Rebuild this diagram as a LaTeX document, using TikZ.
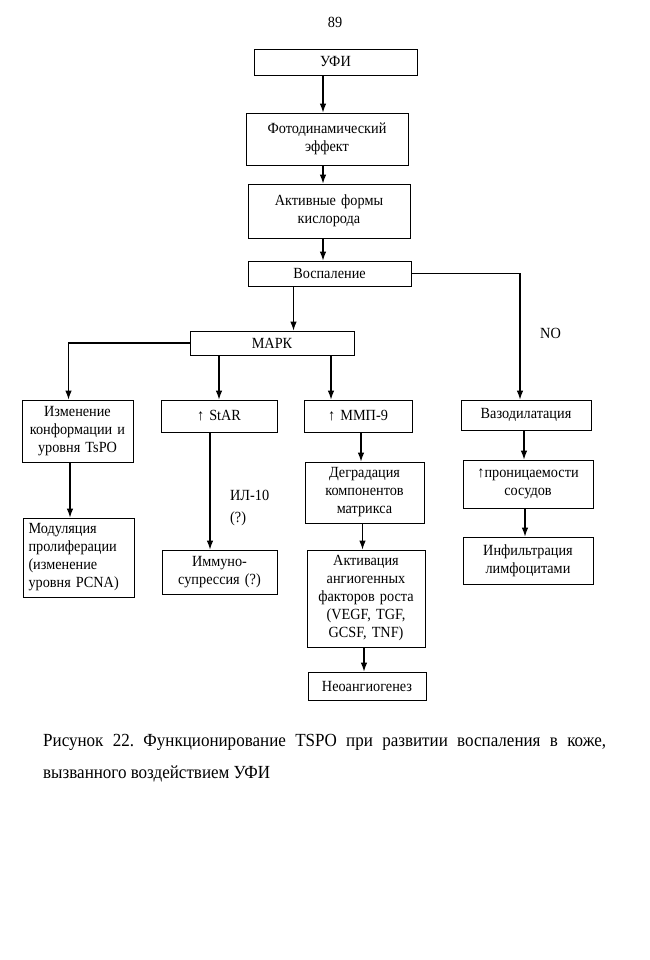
\documentclass[tikz,border=0pt]{standalone}
\usepackage{fontspec}
\setmainfont{Liberation Serif}[FakeStretch=0.92]
\usetikzlibrary{arrows.meta,positioning}

\begin{document}
\begin{tikzpicture}[
  x=1pt, y=-1pt,
  box/.style={draw, line width=0.8pt, align=center, inner sep=2pt,
              font=\fontsize{15.5}{18}\selectfont},
  lbl/.style={align=left, inner sep=0pt, font=\fontsize{15.5}{22}\selectfont},
  fwd/.style={-{Latex[length=9pt,width=6.5pt]}, line width=1.1pt},
]
\useasboundingbox (0,0) rectangle (649,960);

\node[font=\fontsize{15.5}{16}\selectfont] (page) at (335,22) {89};

% ---- main chain -------------------------------------------------------------
\node[box, text width=159pt, minimum height=26pt] (ufi) at (335.5,62) {УФИ};
\node[box, text width=158pt, minimum height=52pt] (fde) at (327,139)
  {Фотодинамический\\эффект};
\node[box, text width=158pt, minimum height=54pt] (afk) at (329,211)
  {Активные формы\\кислорода};
\node[box, text width=159pt, minimum height=25pt] (vosp) at (329.5,273.5)
  {Воспаление};
\node[box, text width=160pt, minimum height=24pt] (mapk) at (272,343) {МАРК};

\draw[fwd] ([xshift=-4pt]fde.north |- ufi.south) -- ([xshift=-4pt]fde.north);
\draw[fwd] ([xshift=-4pt]fde.south) -- ([xshift=-4pt]fde.south |- afk.north);
\draw[fwd] ([xshift=-4pt]fde.south |- afk.south) -- ([xshift=-4pt]fde.south |- vosp.north);
\draw[fwd] ([xshift=-36pt]vosp.south) -- ([xshift=-36pt]vosp.south |- mapk.north);

% ---- left branches ------------------------------------------------------------
\node[box, text width=107pt, minimum height=62pt] (tspo) at (77.5,431)
  {Изменение\\конформации и\\уровня TsPO};
\node[box, text width=100pt, minimum height=79pt, align=left,
      inner xsep=5.5pt] (pcna) at (78.5,557.5)
  {Модуляция\\пролиферации\\(изменение\\уровня PCNA)};
\node[box, text width=112pt, minimum height=32pt] (star) at (219,416) {↑ StAR};
\node[box, text width=111pt, minimum height=44pt] (immun) at (219.5,572)
  {Иммуно-\\супрессия (?)};
\node[lbl, anchor=west] (il) at (230,508) {ИЛ-10\\(?)};

\draw[fwd] (mapk.west) -| ([xshift=-9pt]tspo.north);
\draw[fwd] ([xshift=-7.5pt]tspo.south) -- ([xshift=-7.5pt]tspo.south |- pcna.north);
\draw[fwd] (star.north |- mapk.south) -- (star.north);
\draw[fwd] ([xshift=-9pt]star.south) -- ([xshift=-9pt]star.south |- immun.north);

% ---- MMP-9 column -------------------------------------------------------------
\node[box, text width=104pt, minimum height=32pt] (mmp) at (358,416) {↑ ММП-9};
\node[box, text width=115pt, minimum height=61pt] (degr) at (364.5,492.5)
  {Деградация\\компонентов\\матрикса};
\node[box, text width=114pt, minimum height=97pt] (activ) at (366,598.5)
  {Активация\\ангиогенных\\факторов роста\\(VEGF, TGF,\\GCSF, TNF)};
\node[box, text width=114pt, minimum height=28pt] (neo) at (367,686)
  {Неоангиогенез};

\draw[fwd] ([xshift=-27pt]mmp.north |- mapk.south) -- ([xshift=-27pt]mmp.north);
\draw[fwd] ([xshift=3pt]mmp.south) -- ([xshift=3pt]mmp.south |- degr.north);
\draw[fwd] ([xshift=-2pt]degr.south) -- ([xshift=-2pt]degr.south |- activ.north);
\draw[fwd] ([xshift=-2pt]activ.south) -- ([xshift=-2pt]activ.south |- neo.north);

% ---- right branch ---------------------------------------------------------------
\node[box, text width=126pt, minimum height=30pt] (vaso) at (526,415)
  {Вазодилатация};
\node[box, text width=126pt, minimum height=48pt] (pron) at (528,484)
  {↑проницаемости\\сосудов};
\node[box, text width=126pt, minimum height=47pt] (infil) at (528,560.5)
  {Инфильтрация\\лимфоцитами};
\node[lbl, anchor=west] (no) at (540,333) {NO};

\draw[fwd] (vosp.east) -| ([xshift=-6pt]vaso.north);
\draw[fwd] ([xshift=-2pt]vaso.south) -- ([xshift=-2pt]vaso.south |- pron.north);
\draw[fwd] ([xshift=-3pt]pron.south) -- ([xshift=-3pt]pron.south |- infil.north);

% ---- caption --------------------------------------------------------------------
\node[anchor=north west, text width=563pt, align=justify, inner sep=0pt,
      font=\fontsize{18.5}{32}\selectfont\frenchspacing] (cap) at (43,734)
  {Рисунок 22. Функционирование TSPO при развитии воспаления в коже,\linebreak
   вызванного воздействием УФИ};

\end{tikzpicture}
\end{document}
